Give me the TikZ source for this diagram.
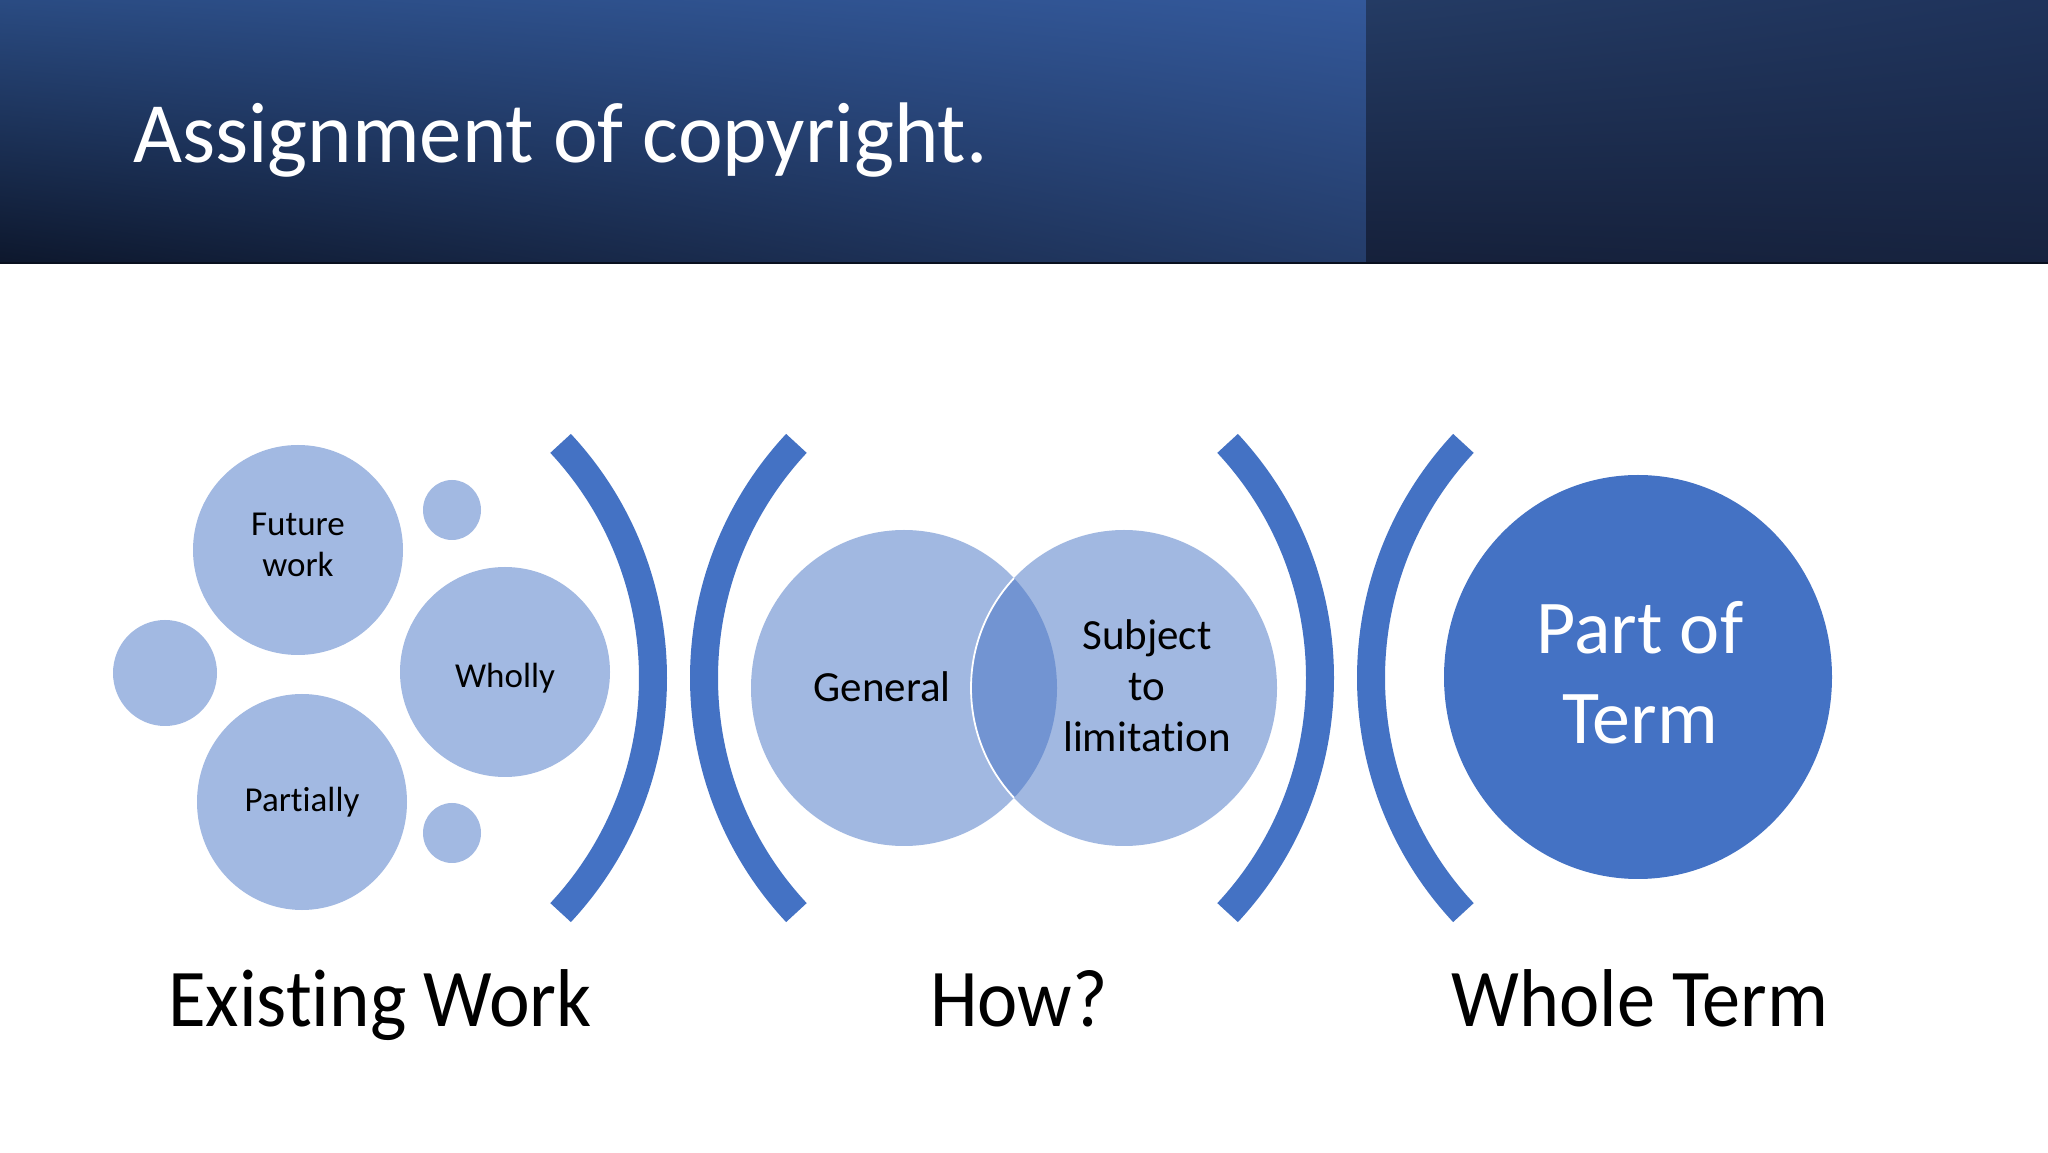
\documentclass[tikz,border=0pt]{standalone}
\usepackage{fontspec}
\setmainfont{Carlito}[Ligatures=NoCommon,RawFeature={-liga;-clig;-dlig}]
\usetikzlibrary{shapes.geometric,shadings}
\definecolor{acc}{HTML}{4472C4}
\definecolor{lightacc}{HTML}{A2B9E2}
\definecolor{hdA}{HTML}{2A4B82}
\definecolor{hdB}{HTML}{33589A}
\definecolor{hdC}{HTML}{0D172C}
\definecolor{hdD}{HTML}{243C69}
\definecolor{hdE}{HTML}{243B64}
\definecolor{hdF}{HTML}{1F335B}
\definecolor{hdG}{HTML}{15203A}
\definecolor{hdH}{HTML}{17233F}
\tikzset{
  bubble/.style={ellipse, fill=lightacc, inner sep=0pt},
  bubtext/.style={inner sep=0pt, align=center, text=black, font=\fontsize{35}{41}\selectfont},
  venn/.style={ellipse, fill=acc, fill opacity=0.5, inner sep=0pt},
  bigc/.style={ellipse, fill=acc, inner sep=0pt},
  paren/.style={draw=acc, line width=28pt, line cap=butt},
  midfont/.style={font=\fontsize{43}{51}\selectfont},
  bigfont/.style={font=\fontsize{76}{90}\selectfont, text=white, align=center, inner sep=0pt},
  labfont/.style={font=\fontsize{82}{100}\selectfont, text=black, inner sep=0pt, anchor=base}
}
\begin{document}
\begin{tikzpicture}[x=1pt,y=1pt]
\useasboundingbox (0,0) rectangle (2048,1152);
\fill[white] (0,0) rectangle (2048,1152);
% header
\shade[upper left=hdA, upper right=hdB, lower left=hdC, lower right=hdD] (0,888) rectangle (1366,1152);
\shade[upper left=hdE, upper right=hdF, lower left=hdG, lower right=hdH] (1366,888) rectangle (2048,1152);
\fill[hdC!70!black] (0,888) rectangle (2048,890);
\node[anchor=base west, text=white, inner sep=0pt, font=\fontsize{86}{100}\selectfont] (title) at (133,989) {\scalebox{0.985}[1]{Assignment of copyright.}};

% left group
\node[bubble, minimum width=210pt, minimum height=210pt] (future) at (298,602) {};
\node[bubble, minimum width=104pt, minimum height=106pt] (sml) at (165,479) {};
\node[bubble, minimum width=210pt, minimum height=210pt] (wholly) at (505,480) {};
\node[bubble, minimum width=210pt, minimum height=216pt] (partially) at (302,350) {};
\node[bubble, minimum width=58pt, minimum height=60pt] (smt) at (452,642) {};
\node[bubble, minimum width=58pt, minimum height=60pt] (smb) at (452,319) {};
\node[bubtext] (futuretext) at (298,607) {Future\\work};
\node[bubtext] (whollytext) at (505,474) {Wholly};
\node[bubtext] (partiallytext) at (302,350) {Partially};

% parens
\draw[paren] (309,474) ++(-43:344) arc[start angle=-43, end angle=43, radius=344];
\draw[paren] (1048,474) ++(137:344) arc[start angle=137, end angle=223, radius=344];
\draw[paren] (976,474) ++(-43:344) arc[start angle=-43, end angle=43, radius=344];
\draw[paren] (1715,474) ++(137:344) arc[start angle=137, end angle=223, radius=344];

% venn
\node[venn, minimum width=306pt, minimum height=316pt] (gen) at (904,464) {};
\node[venn, minimum width=306pt, minimum height=316pt] (subj) at (1124,464) {};
\begin{scope}
  \clip (904,464) ellipse [x radius=153, y radius=158];
  \draw[white, line width=1.8pt] (1124,464) ellipse [x radius=153, y radius=158];
\end{scope}
\node[midfont, inner sep=0pt] (gentext) at (882,465) {General};
\node[midfont, inner sep=0pt, align=center] (subjtext) at (1147,466) {Subject\\to\\limitation};

% part of term
\node[bigc, minimum width=388pt, minimum height=404pt] (part) at (1638,475) {};
\node[bigfont] (parttext) at (1640,479) {Part of\\Term};

% labels
\node[labfont] (lab1) at (380,126) {\scalebox{0.94}[1]{Existing Work}};
\node[labfont] (lab2) at (1019,126) {\scalebox{0.93}[1]{How?}};
\node[labfont] (lab3) at (1640,126) {\scalebox{0.93}[1]{Whole Term}};
\end{tikzpicture}
\end{document}
